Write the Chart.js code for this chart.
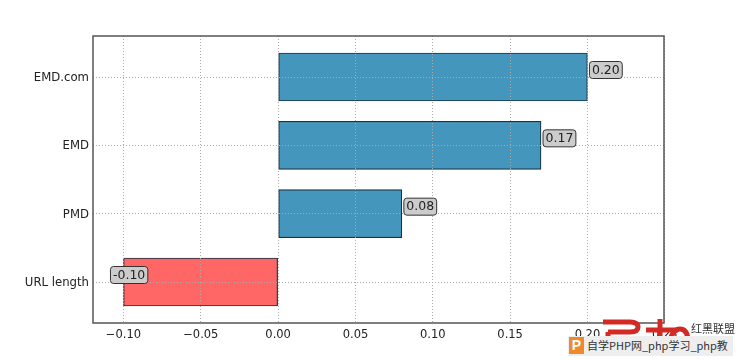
<!DOCTYPE html>
<html>
<head>
<meta charset="utf-8">
<style>
html, body { margin: 0; padding: 0; background: #fff; overflow: hidden; }
#wrap { position: relative; width: 738px; height: 359px; }
#strip { position: absolute; left: 568px; top: 336px; width: 165px; height: 20px; background: #eeeeee; }
#pbox { position: absolute; left: 569px; top: 337px; width: 15px; height: 17px; background: #ee8a2c; color: #fff; font: bold 14px/17px "Liberation Sans"; text-align: center; }
#ptext { position: absolute; left: 587px; top: 337px; font: 11px/17px "Noto Sans CJK SC"; color: #333; white-space: nowrap; width: 141px; overflow: hidden; }
#logo { position: absolute; left: 600px; top: 314px; }
#lmtext { position: absolute; left: 691px; top: 320px; font: 11px/16px "Noto Sans CJK SC"; color: #333; white-space: nowrap; }
</style>
</head>
<body>
<div id="wrap">
    <canvas id="barChart" width="738" height="359"></canvas>
    <svg id="logo" width="92" height="30" fill="none" stroke="#d42a25" stroke-width="5">
        <path d="M3 8 H30 Q38 8 38 13 Q38 18 30 18 H8"/>
        <path d="M8 18 V30"/>
        <path d="M46 16 H78"/>
        <path d="M60 5 V30"/>
        <path d="M70 28 Q72 15 80 15 Q88 15 88 28"/>
    </svg>
    <div id="lmtext">红黑联盟</div>
    <div id="strip"></div>
    <div id="pbox">P</div>
    <div id="ptext">自学PHP网_php学习_php教</div>
</div>
<script src="https://cdn.jsdelivr.net/npm/chart.js@4"></script>
<script>
const categories = ['URL length', 'PMD', 'EMD', 'EMD.com'];
const values = [-0.10, 0.08, 0.17, 0.20];
const xTicks = [-0.10, -0.05, 0.00, 0.05, 0.10, 0.15, 0.20, 0.25];

const textColor = '#222222';
const fontFamily = '"DejaVu Sans"';

// value boxes and the closed frame round the plot
const boxPlugin = {
    id: 'boxPlugin',
    afterDraw(chart) {
        const ctx = chart.ctx;
        const area = chart.chartArea;
        ctx.save();
        ctx.strokeStyle = '#555555';
        ctx.lineWidth = 1.5;
        ctx.strokeRect(area.left, area.top, area.width, area.height);

        ctx.font = '12.5px ' + fontFamily;
        ctx.textBaseline = 'middle';
        values.forEach((v, i) => {
            const px = chart.scales.x.getPixelForValue(v);
            const py = chart.scales.y.getPixelForValue(i) - 7;
            const label = v.toFixed(2);
            const w = ctx.measureText(label).width + 5;
            const left = v < 0 ? px - 13 : px + 2;
            ctx.beginPath();
            ctx.roundRect(left, py - 8.5, w, 17, 3);
            ctx.fillStyle = '#cccccc';
            ctx.fill();
            ctx.strokeStyle = '#333333';
            ctx.lineWidth = 1;
            ctx.stroke();
            ctx.fillStyle = textColor;
            ctx.fillText(label, left + 2.5, py + 0.5);
        });
        ctx.restore();
    }
};

new Chart(document.getElementById('barChart').getContext('2d'), {
    type: 'bar',
    data: {
        datasets: [{
            data: values.map((v, i) => ({ x: v, y: i })),
            backgroundColor: values.map(v => v < 0 ? '#ff6666' : '#4496bd'),
            borderColor: '#1a3340',
            borderWidth: 1.2,
            borderSkipped: false,
            barThickness: 48
        }]
    },
    options: {
        indexAxis: 'y',
        responsive: false,
        animation: false,
        layout: { padding: { top: 36, right: 74, left: 0, bottom: 0 } },
        plugins: { legend: { display: false }, tooltip: { enabled: false } },
        scales: {
            x: {
                type: 'linear',
                min: -0.1197,
                max: 0.2495,
                afterBuildTicks(scale) { scale.ticks = xTicks.map(value => ({ value })); },
                afterFit(scale) { scale.height = 36; },
                grid: { color: '#aaaaaa', lineWidth: 1, tickLength: 0, z: 1 },
                border: { display: false, dash: [1, 2] },
                ticks: {
                    color: textColor,
                    padding: 5,
                    maxRotation: 0,
                    autoSkip: false,
                    font: { family: fontFamily, size: 11.5 },
                    callback: v => (v < 0 ? '\u2212' : '') + Math.abs(v).toFixed(2)
                }
            },
            y: {
                type: 'linear',
                offset: false,
                min: -0.6,
                max: 3.6,
                afterBuildTicks(scale) { scale.ticks = categories.map((c, i) => ({ value: i })); },
                afterFit(scale) { scale.width = 93; },
                grid: { color: '#aaaaaa', lineWidth: 1, tickLength: 0, offset: false, z: 1 },
                border: { display: false, dash: [1, 2] },
                ticks: {
                    color: textColor,
                    padding: 4,
                    labelOffset: 1,
                    autoSkip: false,
                    font: { family: fontFamily, size: 11.7 },
                    callback: v => categories[v]
                }
            }
        }
    },
    plugins: [boxPlugin]
});
</script>
</body>
</html>
